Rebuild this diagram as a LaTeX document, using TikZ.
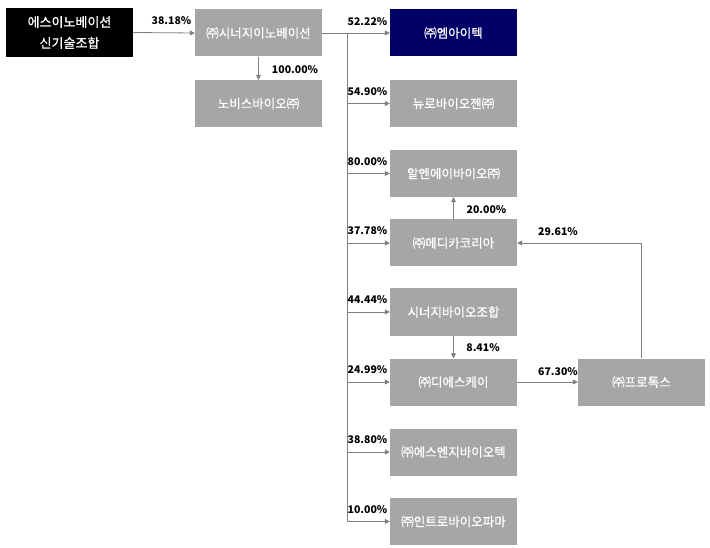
\documentclass[tikz,border=0pt]{standalone}
\usepackage{fontspec}
\setmainfont{Noto Sans CJK KR}
\newfontfamily\boxfont{Noto Sans CJK KR}[FakeBold=0.8]
\usetikzlibrary{arrows.meta,calc}
\definecolor{boxgray}{HTML}{A6A6A6}
\definecolor{linegray}{HTML}{7F7F7F}
\definecolor{navy}{HTML}{000066}
\begin{document}
\begin{tikzpicture}[x=1pt,y=-1pt,
  co/.style={fill=boxgray,text=white,minimum width=127pt,minimum height=47pt,inner sep=0pt,font=\boxfont\fontsize{12.5}{14}\selectfont},
  arr/.style={draw=linegray,line width=0.8pt,-{Triangle[width=5pt,length=5pt]}},
  ln/.style={draw=linegray,line width=0.8pt},
  lbl/.style={font=\bfseries\fontsize{10.5}{12}\selectfont,inner sep=0pt,text=black}]
\useasboundingbox (0,0) rectangle (710,548);
\node[co,fill=black,minimum height=49pt,font=\boxfont\fontsize{13}{21}\selectfont,align=center] (es) at (69.5,32.5) {에스이노베이션\\신기술조합};
\node[co] (syn) at (258.5,33) {㈜시너지이노베이션};
\node[co] (nov) at (258.5,103.5) {노비스바이오㈜};
\node[co,fill=navy] (mit) at (453.5,33) {㈜엠아이텍};
\node[co] (neu) at (453.5,103.5) {뉴로바이오젠㈜};
\node[co] (rna) at (453.5,173.5) {알엔에이바이오㈜};
\node[co] (med) at (453.5,243) {㈜메디카코리아};
\node[co] (sbj) at (453.5,312) {시너지바이오조합};
\node[co] (dsk) at (453.5,382) {㈜디에스케이};
\node[co] (sng) at (453.5,452) {㈜에스엔지바이오텍};
\node[co] (itr) at (453.5,521.5) {㈜인트로바이오파마};
\node[co] (pro) at (641.5,382) {㈜프로톡스};
\coordinate (bus) at (347,0);
\coordinate (busend) at (347,521.5);
% bus
\draw[ln] (bus |- syn.east) -- (busend);
\draw[arr] (es.east) -- (syn.west);
\draw[arr] (syn.south) -- (nov.north);
\draw[arr] (syn.east) -- (mit.west);
\foreach \n in {neu,rna,med,sbj,dsk,sng,itr}{
  \draw[arr] (bus |- \n.west) -- (\n.west);
}
\draw[arr] (med.north) -- (rna.south);
\draw[arr] (sbj.south) -- (dsk.north);
\draw[arr] (dsk.east) -- (pro.west);
\draw[arr] (pro.north) |- (med.east);
% labels
\node[lbl] at (171.5,21) {38.18\%};
\node[lbl] at (295,70) {100.00\%};
\node[lbl] at (367.5,22) {52.22\%};
\node[lbl] at (367.5,92) {54.90\%};
\node[lbl] at (367.5,162) {80.00\%};
\node[lbl] at (367.5,231) {37.78\%};
\node[lbl] at (367.5,300) {44.44\%};
\node[lbl] at (367.5,370) {24.99\%};
\node[lbl] at (367.5,440) {38.80\%};
\node[lbl] at (367.5,510) {10.00\%};
\node[lbl] at (486.5,210) {20.00\%};
\node[lbl] at (483,348) {8.41\%};
\node[lbl] at (558,372) {67.30\%};
\node[lbl] at (558,232) {29.61\%};
\end{tikzpicture}
\end{document}
